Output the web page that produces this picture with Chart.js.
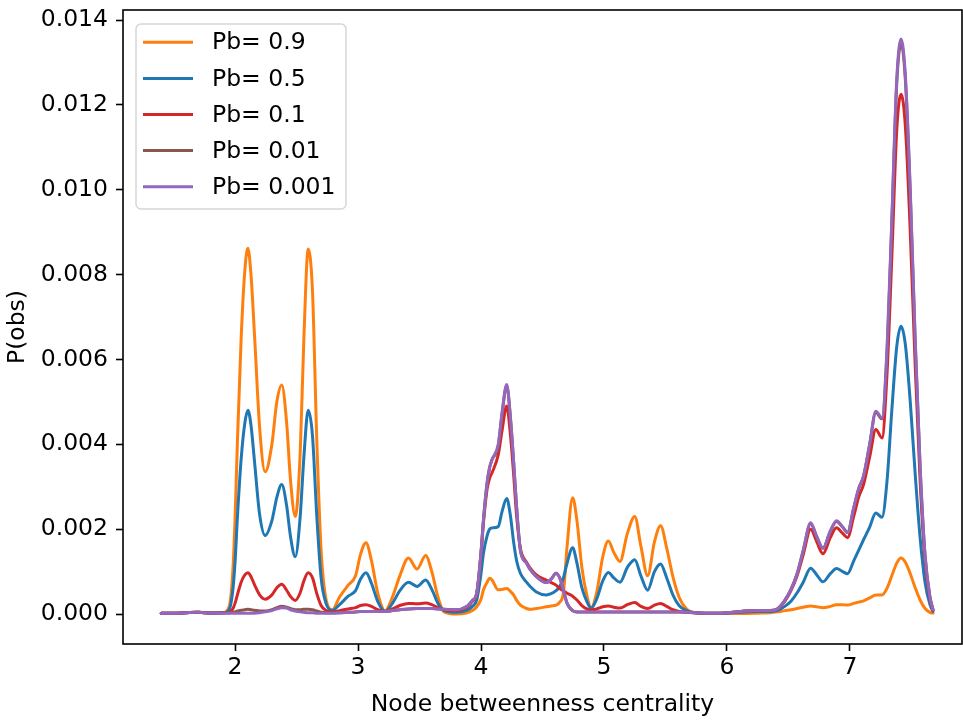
<!DOCTYPE html>
<html><head><meta charset="utf-8">
<script src="https://cdn.jsdelivr.net/npm/chart.js@4.4.1/dist/chart.umd.min.js"></script>
<style>html,body{margin:0;padding:0;background:#fff;overflow:hidden}</style>
</head><body>
<canvas id="c" width="963" height="723" style="display:block;width:963px;height:723px"></canvas>
<script>
const xValues = [1.40,1.50,1.60,1.70,1.80,1.90,1.95,1.98,2.00,2.02,
2.05,2.08,2.105,2.13,2.16,2.20,2.245,2.30,2.34,2.38,
2.42,2.45,2.49,2.53,2.56,2.595,2.63,2.665,2.70,2.74,
2.79,2.85,2.92,2.98,3.02,3.065,3.11,3.16,3.22,3.28,
3.34,3.41,3.48,3.55,3.60,3.65,3.70,3.80,3.88,3.93,
3.965,4.00,4.02,4.05,4.07,4.09,4.14,4.17,4.209,4.24,
4.265,4.29,4.32,4.37,4.40,4.45,4.53,4.57,4.61,4.64,
4.67,4.70,4.745,4.78,4.82,4.86,4.895,4.94,4.99,5.035,
5.08,5.13,5.19,5.25,5.30,5.355,5.41,5.46,5.51,5.56,
5.61,5.67,5.75,5.85,5.95,6.05,6.15,6.25,6.35,6.41,
6.47,6.52,6.57,6.62,6.68,6.73,6.78,6.84,6.89,6.94,
6.98,7.03,7.07,7.11,7.16,7.21,7.26,7.30,7.34,7.38,
7.415,7.45,7.49,7.53,7.57,7.61,7.65,7.675];

const pb09 = [0.00002,0.00002,0.00003,0.00004,0.00002,0.00003,0.00015,0.0009,0.0022,0.0041,
0.0065,0.0081,0.00862,0.0080,0.0065,0.0044,0.00335,0.0040,0.0050,0.0054,
0.0045,0.0032,0.0023,0.0038,0.0065,0.0086,0.0076,0.0041,0.0015,0.00035,
0.0001,0.0004,0.00068,0.0009,0.0014,0.00168,0.00125,0.0005,0.00008,0.0004,
0.0009,0.00132,0.00106,0.00138,0.0010,0.0004,0.00005,0.0,0.00002,0.00008,
0.00017,0.00035,0.00057,0.00075,0.00084,0.0008,0.00057,0.00058,0.0006,0.00053,
0.00045,0.00032,0.00021,0.00013,0.00011,0.00013,0.00017,0.00019,0.00021,0.00028,
0.0005,0.0016,0.00274,0.0022,0.0011,0.00045,0.00015,0.0005,0.00135,0.00172,
0.00145,0.00124,0.0019,0.0023,0.0016,0.0009,0.0017,0.00208,0.00155,0.00088,
0.0004,0.00012,0.00002,0.00001,0.00001,0.00001,0.00001,0.00002,0.00003,0.00005,
0.00008,0.0001,0.00013,0.00016,0.00019,0.00017,0.00015,0.00018,0.00022,0.00022,
0.00021,0.00025,0.00028,0.00031,0.00038,0.00045,0.00045,0.0006,0.0009,0.0012,
0.00132,0.00122,0.00095,0.00062,0.00033,0.00013,0.00004,0.00002];

const pb05 = [0.00002,0.00002,0.00003,0.00004,0.00002,0.00003,0.00009,0.0005,0.0012,0.0023,
0.00365,0.0045,0.0048,0.00445,0.00355,0.00235,0.00185,0.0022,0.00275,0.00305,
0.00255,0.00185,0.00135,0.0023,0.0037,0.0048,0.0042,0.0023,0.00085,0.00025,
0.00008,0.00022,0.00042,0.00055,0.00082,0.00097,0.00072,0.0003,0.00006,0.00025,
0.00055,0.00075,0.00065,0.0008,0.00058,0.00025,0.00008,0.00004,0.00008,0.00018,
0.00033,0.00095,0.00143,0.00185,0.002,0.00203,0.00206,0.0024,0.00272,0.0023,
0.0017,0.00125,0.00096,0.00075,0.00065,0.00052,0.00045,0.00048,0.00055,0.00065,
0.00085,0.0012,0.00156,0.0012,0.00062,0.0003,0.00014,0.00035,0.00078,0.00098,
0.00085,0.00075,0.0011,0.00128,0.0009,0.00056,0.001,0.00118,0.00085,0.00045,
0.0002,0.00008,0.00003,0.00002,0.00002,0.00003,0.00005,0.00006,0.00006,0.00008,
0.00018,0.0003,0.0005,0.00075,0.00108,0.00092,0.00076,0.00095,0.00107,0.001,
0.00095,0.00125,0.0015,0.00175,0.00205,0.00238,0.00228,0.0031,0.0048,0.0063,
0.00678,0.00635,0.005,0.0033,0.0018,0.00075,0.00022,0.00006];

const pb01 = [0.00002,0.00002,0.00003,0.00004,0.00002,0.00003,0.00004,0.00011,0.00025,0.00046,
0.00075,0.00092,0.00097,0.00088,0.00068,0.00045,0.00035,0.00045,0.00062,0.0007,
0.00056,0.00042,0.00032,0.0005,0.00078,0.00097,0.00085,0.00048,0.0002,0.00008,
0.00005,0.00008,0.00012,0.00015,0.0002,0.00022,0.00018,0.0001,0.00006,0.00012,
0.0002,0.00025,0.00024,0.00026,0.00022,0.00015,0.0001,0.00008,0.00015,0.0003,
0.00048,0.0014,0.00215,0.00295,0.0032,0.00333,0.00375,0.0043,0.0049,0.0042,
0.0033,0.0023,0.00155,0.00122,0.00108,0.00092,0.0008,0.00074,0.00068,0.0006,
0.00055,0.00049,0.00042,0.00033,0.0002,0.00012,0.00009,0.00012,0.00017,0.00019,
0.00016,0.00014,0.00022,0.00027,0.00018,0.00013,0.00021,0.00025,0.00018,0.0001,
0.00006,0.00004,0.00003,0.00002,0.00002,0.00004,0.00007,0.00008,0.00008,0.00012,
0.0003,0.00055,0.0009,0.0014,0.002,0.0017,0.00142,0.0018,0.00203,0.0019,
0.0018,0.0023,0.00275,0.00305,0.0037,0.00435,0.00415,0.0056,0.0084,0.0114,
0.01225,0.0115,0.009,0.00585,0.00315,0.00125,0.00036,0.00009];

const pb001 = [0.00002,0.00002,0.00003,0.00004,0.00003,0.00003,0.00003,0.00004,0.00005,0.00007,
0.00009,0.0001,0.00011,0.0001,0.00009,0.00007,0.00007,0.0001,0.00015,0.00018,
0.00016,0.00013,0.0001,0.0001,0.00011,0.00011,0.0001,0.00007,0.00004,0.00003,
0.00003,0.00003,0.00004,0.00005,0.00006,0.00006,0.00006,0.00006,0.00006,0.00008,
0.0001,0.00012,0.00013,0.00013,0.00013,0.00012,0.00011,0.0001,0.00017,0.00032,
0.00049,0.00145,0.00222,0.0031,0.00345,0.00364,0.00395,0.0047,0.00538,0.0046,
0.0036,0.0025,0.00151,0.0012,0.00105,0.00088,0.00074,0.00082,0.00096,0.00085,
0.00057,0.00025,0.00008,0.00005,0.00005,0.00005,0.00005,0.00005,0.00005,0.00005,
0.00005,0.00005,0.00005,0.00005,0.00005,0.00005,0.00005,0.00005,0.00005,0.00005,
0.00005,0.00004,0.00003,0.00002,0.00002,0.00004,0.00007,0.00008,0.00008,0.00012,
0.00032,0.00058,0.00095,0.0015,0.00213,0.00182,0.00155,0.00195,0.00218,0.00205,
0.00192,0.0025,0.00295,0.00325,0.004,0.00475,0.0046,0.0061,0.0092,0.0125,
0.01345,0.0126,0.0099,0.0064,0.00345,0.00138,0.0004,0.0001];

const pb0001 = [0.00002,0.00002,0.00003,0.00004,0.00002,0.00002,0.00002,0.00002,0.00002,0.00002,
0.00002,0.00002,0.00002,0.00002,0.00002,0.00003,0.00005,0.00008,0.00012,0.00015,
0.00014,0.0001,0.00007,0.00005,0.00004,0.00003,0.00003,0.00002,0.00002,0.00002,
0.00002,0.00003,0.00004,0.00005,0.00006,0.00006,0.00006,0.00006,0.00006,0.00008,
0.0001,0.00012,0.00013,0.00013,0.00013,0.00012,0.00011,0.0001,0.00017,0.00032,
0.00049,0.00145,0.00222,0.0031,0.00345,0.00364,0.004,0.0047,0.00541,0.0046,
0.0036,0.0025,0.00151,0.0012,0.00105,0.00088,0.00074,0.00082,0.00096,0.00085,
0.00057,0.00025,0.00008,0.00005,0.00005,0.00005,0.00005,0.00005,0.00005,0.00005,
0.00005,0.00005,0.00005,0.00005,0.00005,0.00005,0.00005,0.00005,0.00005,0.00005,
0.00005,0.00004,0.00003,0.00002,0.00002,0.00004,0.00007,0.00008,0.00008,0.00012,
0.00032,0.00058,0.00095,0.0015,0.00215,0.00182,0.00155,0.00195,0.0022,0.00205,
0.00192,0.0025,0.00295,0.00325,0.004,0.00478,0.00462,0.0062,0.0093,0.0126,
0.01355,0.0127,0.01,0.0065,0.0035,0.0014,0.0004,0.0001];

const seriesLabels = ['Pb= 0.9','Pb= 0.5','Pb= 0.1','Pb= 0.01','Pb= 0.001'];
const seriesColors = ['#ff7f0e','#1f77b4','#d62728','#8c564b','#9467bd'];
const xTicks = [2,3,4,5,6,7];
const yTicks = [0,0.002,0.004,0.006,0.008,0.010,0.012,0.014];
const xTitle = 'Node betweenness centrality';
const yTitle = 'P(obs)';

const allSeries = [pb09, pb05, pb01, pb001, pb0001];
const FONT = 'DejaVu Sans';
const FSIZE = 23.5;

const frameAndLegend = {
  id: 'frameAndLegend',
  afterDatasetsDraw(chart) {
    const ctx = chart.ctx, ca = chart.chartArea;
    ctx.save();
    const bx = ca.left + 13, by = ca.top + 14, bw = 210, bh = 185, r = 5;
    ctx.beginPath();
    ctx.moveTo(bx + r, by);
    ctx.arcTo(bx + bw, by, bx + bw, by + bh, r);
    ctx.arcTo(bx + bw, by + bh, bx, by + bh, r);
    ctx.arcTo(bx, by + bh, bx, by, r);
    ctx.arcTo(bx, by, bx + bw, by, r);
    ctx.closePath();
    ctx.fillStyle = 'rgba(255,255,255,0.8)';
    ctx.fill();
    ctx.strokeStyle = '#d6d6d6';
    ctx.lineWidth = 1.5;
    ctx.stroke();
    ctx.font = FSIZE + 'px "' + FONT + '"';
    ctx.textBaseline = 'middle';
    ctx.textAlign = 'left';
    seriesLabels.forEach((lab, i) => {
      const y = ca.top + 32.3 + 36.1 * i;
      ctx.strokeStyle = seriesColors[i];
      ctx.lineWidth = 3;
      ctx.beginPath();
      ctx.moveTo(ca.left + 20, y);
      ctx.lineTo(ca.left + 70, y);
      ctx.stroke();
      ctx.fillStyle = '#000';
      ctx.fillText(lab, ca.left + 89, y + 1);
    });
    ctx.strokeStyle = '#000';
    ctx.lineWidth = 1.6;
    ctx.strokeRect(ca.left, ca.top, ca.right - ca.left, ca.bottom - ca.top);
    ctx.restore();
  }
};

new Chart(document.getElementById('c'), {
  type: 'line',
  data: {
    datasets: allSeries.map((s, i) => ({
      label: seriesLabels[i],
      data: xValues.map((x, j) => ({x: x, y: s[j]})),
      borderColor: seriesColors[i],
      backgroundColor: seriesColors[i],
      borderWidth: 3,
      pointRadius: 0,
      fill: false,
      cubicInterpolationMode: 'monotone',
      order: allSeries.length - 1 - i,
      borderCapStyle: 'round',
      borderJoinStyle: 'round'
    }))
  },
  options: {
    responsive: false,
    animation: false,
    devicePixelRatio: 1,
    layout: {padding: {left: 0, right: 1, top: 10, bottom: 0}},
    plugins: {legend: {display: false}, tooltip: {enabled: false}},
    scales: {
      x: {
        type: 'linear',
        min: 1.0894, max: 7.9106,
        afterBuildTicks: (axis) => { axis.ticks = xTicks.map(v => ({value: v})); },
        afterFit: (s) => { s.height = 79; s.paddingLeft = 0; s.paddingRight = 0; },
        grid: {display: true, drawOnChartArea: false, drawTicks: true, tickLength: 7, tickWidth: 1.6, tickColor: '#000', color: '#000'},
        border: {display: false},
        ticks: {color: '#000', font: {family: FONT, size: FSIZE}, padding: 3, maxRotation: 0, autoSkip: false,
                callback: (v) => String(v)},
        title: {display: true, text: xTitle, color: '#000', font: {family: FONT, size: FSIZE}, padding: {top: 0, bottom: 4}}
      },
      y: {
        type: 'linear',
        min: -0.000707, max: 0.014236,
        afterBuildTicks: (axis) => { axis.ticks = yTicks.map(v => ({value: v})); },
        afterFit: (s) => { s.width = 123; s.paddingTop = 0; s.paddingBottom = 0; },
        grid: {display: true, drawOnChartArea: false, drawTicks: true, tickLength: 7, tickWidth: 1.6, tickColor: '#000', color: '#000'},
        border: {display: false},
        ticks: {color: '#000', font: {family: FONT, size: FSIZE}, padding: 8, autoSkip: false,
                callback: (v) => Number(v).toFixed(3)},
        title: {display: true, text: yTitle, color: '#000', font: {family: FONT, size: FSIZE}, padding: {top: 4, bottom: 0}}
      }
    }
  },
  plugins: [frameAndLegend]
});
</script>
</body></html>
